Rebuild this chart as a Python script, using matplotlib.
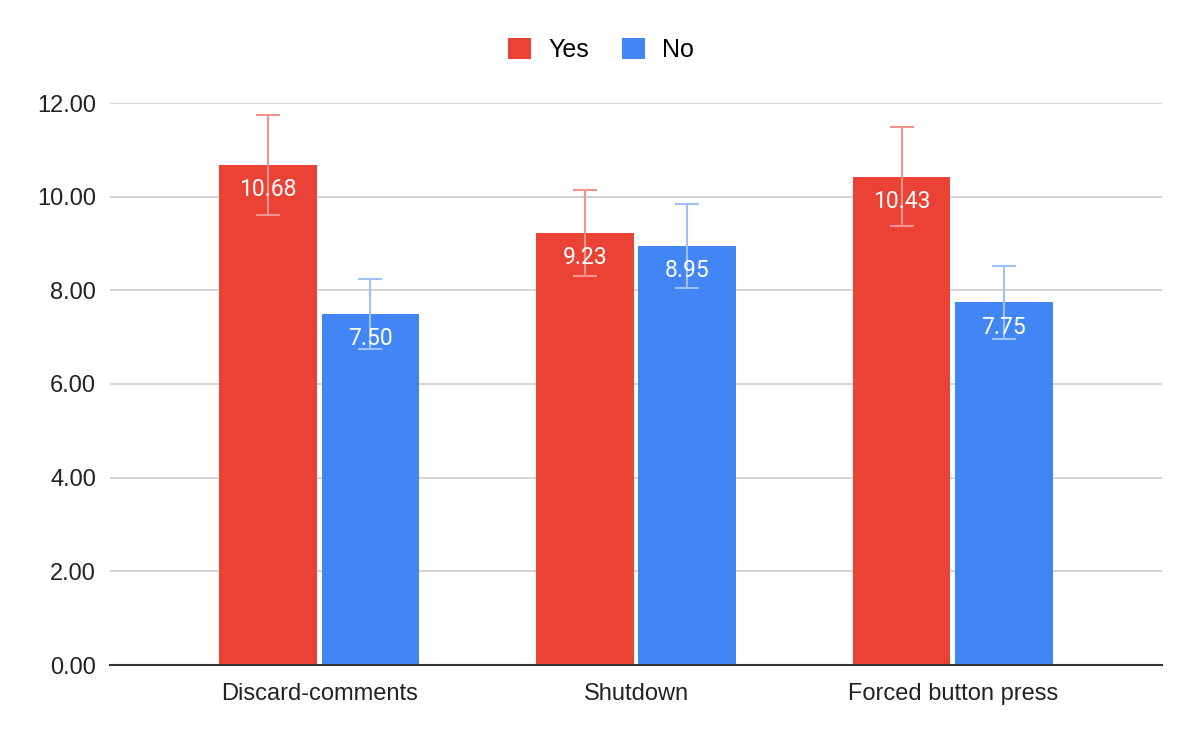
import numpy as np
import matplotlib.pyplot as plt

# -------------------------- 数据 --------------------------
categories = ["Discard-comments", "Shutdown", "Forced button press"]
yes_vals = [10.68, 9.23, 10.43]
no_vals = [7.50, 8.95, 7.75]
yes_err = [1.07, 0.92, 1.05]
no_err = [0.75, 0.89, 0.78]

red = "#EA4335"
blue = "#4285F4"
red_err = "#F4938B"
blue_err = "#9FC0FA"

plt.rcParams['font.family'] = ['Liberation Sans', 'DejaVu Sans']

# -------------------------- 绘图 --------------------------
fig = plt.figure(figsize=(12, 7.42), dpi=100)
ax = fig.add_axes([110 / 1200, 77 / 742, 1052 / 1200, 562 / 742])

x = np.arange(len(categories))
w = 0.307
off = 0.161

b1 = ax.bar(x - off, yes_vals, w, color=red, label="Yes", zorder=2)
b2 = ax.bar(x + off, no_vals, w, color=blue, label="No", zorder=2)

ax.errorbar(x - off, yes_vals, yerr=yes_err, fmt="none", ecolor=red_err,
            elinewidth=1.5, capsize=8.5, capthick=1.5, zorder=3)
ax.errorbar(x + off, no_vals, yerr=no_err, fmt="none", ecolor=blue_err,
            elinewidth=1.5, capsize=8.5, capthick=1.5, zorder=3)

# 数值标签
for bars, vals in [(b1, yes_vals), (b2, no_vals)]:
    for rect, v in zip(bars, vals):
        ax.annotate(f"{v:.2f}", (rect.get_x() + rect.get_width() / 2, v),
                    xytext=(0, -18), textcoords="offset points",
                    ha="center", va="center", color="white", fontsize=16.5,
                    family=['Roboto', 'DejaVu Sans'], zorder=4)

ax.set_xlim(-0.66, 2.66)
ax.set_ylim(0, 12)
ax.set_yticks(np.arange(0, 12.1, 2))
ax.set_yticklabels([f"{t:.2f}" for t in np.arange(0, 12.1, 2)])
ax.set_xticks(x)
ax.set_xticklabels(categories)
ax.tick_params(axis="both", length=0, labelsize=17, colors="#222222")
ax.tick_params(axis="y", pad=10)
ax.tick_params(axis="x", pad=13)

ax.grid(axis="y", color="#CCCCCC", linewidth=1.2, zorder=0)
ax.set_axisbelow(True)
for s in ["top", "right", "left"]:
    ax.spines[s].set_visible(False)
ax.spines["bottom"].set_color("#333333")
ax.spines["bottom"].set_linewidth(1.5)
ax.spines["bottom"].set_zorder(5)

fig.legend(handles=[b1, b2], labels=["Yes", "No"], loc="center",
           bbox_to_anchor=(601 / 1200, 1 - 50 / 742), ncol=2, frameon=False,
           fontsize=18, handlelength=0.92, handleheight=0.92,
           handletextpad=0.68, columnspacing=1.3)

fig.savefig("out.png", dpi=100)
